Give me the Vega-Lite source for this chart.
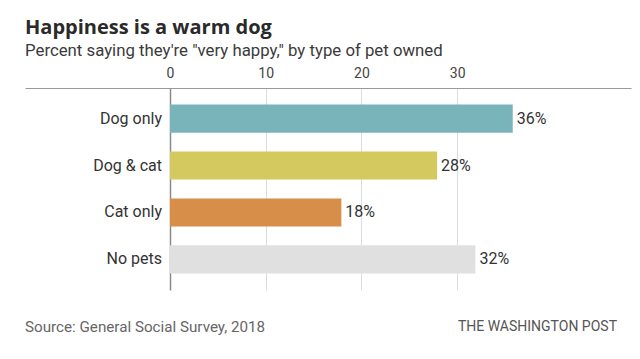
{
  "$schema": "https://vega.github.io/schema/vega-lite/v6.json",
  "width": 606,
  "height": 202,
  "autosize": {"type": "none"},
  "padding": {"left": 25, "top": 88, "right": 9, "bottom": 69},
  "background": "#ffffff",
  "config": {
    "font": "Roboto",
    "view": {"stroke": null},
    "text": {"font": "Roboto"}
  },
  "title": {
    "text": "Happiness is a warm dog",
    "subtitle": "Percent saying they're \"very happy,\" by type of pet owned",
    "anchor": "start",
    "font": "Open Sans",
    "fontSize": 20,
    "fontWeight": "bold",
    "color": "#2a2a2a",
    "subtitleFont": "Roboto",
    "subtitleFontSize": 16.8,
    "subtitleColor": "#3a3a3a",
    "subtitlePadding": 5,
    "offset": 6
  },
  "datasets": {
    "pets": [
      {"pet": "Dog only", "pct": 35.8, "label": "36%"},
      {"pet": "Dog & cat", "pct": 27.9, "label": "28%"},
      {"pet": "Cat only", "pct": 17.9, "label": "18%"},
      {"pet": "No pets", "pct": 31.9, "label": "32%"}
    ],
    "footer": [
      {"text": "Source: General Social Survey, 2018", "side": "left"},
      {"text": "THE WASHINGTON POST", "side": "right"}
    ]
  },
  "layer": [
    {
      "data": {"name": "pets"},
      "mark": {"type": "bar"},
      "encoding": {
        "y": {
          "field": "pet",
          "type": "nominal",
          "sort": ["Dog only", "Dog & cat", "Cat only", "No pets"],
          "scale": {"paddingInner": 0.4, "paddingOuter": 0.35},
          "axis": null
        },
        "x": {
          "field": "pct",
          "type": "quantitative",
          "scale": {"domain": [-15.14, 48.15], "nice": false, "zero": false},
          "axis": {
            "orient": "top",
            "values": [0, 10, 20, 30],
            "title": null,
            "ticks": false,
            "domainColor": "#9a9a9a",
            "domainWidth": 1,
            "grid": true,
            "gridColor": {"condition": {"test": "datum.value === 0", "value": "#8a8a8a"}, "value": "#dcdcdc"},
            "gridWidth": {"condition": {"test": "datum.value === 0", "value": 1.5}, "value": 1},
            "labelFont": "Roboto",
            "labelFontSize": 14,
            "labelColor": "#444444",
            "labelPadding": 8
          }
        },
        "x2": {"datum": 0},
        "color": {
          "field": "pet",
          "type": "nominal",
          "scale": {
            "domain": ["Dog only", "Dog & cat", "Cat only", "No pets"],
            "range": ["#78b4b9", "#d3c95f", "#d68e48", "#e0e0e0"]
          },
          "legend": null
        }
      }
    },
    {
      "data": {"name": "pets"},
      "mark": {"type": "text", "align": "left", "baseline": "middle", "dx": 4, "fontSize": 16, "color": "#333333"},
      "encoding": {
        "y": {"field": "pet", "type": "nominal", "sort": ["Dog only", "Dog & cat", "Cat only", "No pets"]},
        "x": {"field": "pct", "type": "quantitative"},
        "text": {"field": "label"}
      }
    },
    {
      "data": {"name": "pets"},
      "mark": {"type": "text", "align": "right", "baseline": "middle", "dx": -8, "fontSize": 16, "color": "#333333"},
      "encoding": {
        "y": {"field": "pet", "type": "nominal", "sort": ["Dog only", "Dog & cat", "Cat only", "No pets"]},
        "x": {"datum": 0},
        "text": {"field": "pet"}
      }
    },
    {
      "data": {"name": "footer"},
      "transform": [{"filter": "datum.side === 'left'"}],
      "mark": {"type": "text", "align": "left", "baseline": "middle", "fontSize": 15.2, "color": "#666666"},
      "encoding": {
        "x": {"datum": -15.14},
        "y": {"value": 238.5},
        "text": {"field": "text"}
      }
    },
    {
      "data": {"name": "footer"},
      "transform": [{"filter": "datum.side === 'right'"}],
      "mark": {"type": "text", "align": "right", "baseline": "middle", "fontSize": 14, "color": "#555555", "dx": -14},
      "encoding": {
        "x": {"datum": 48.15},
        "y": {"value": 238.5},
        "text": {"field": "text"}
      }
    }
  ]
}
